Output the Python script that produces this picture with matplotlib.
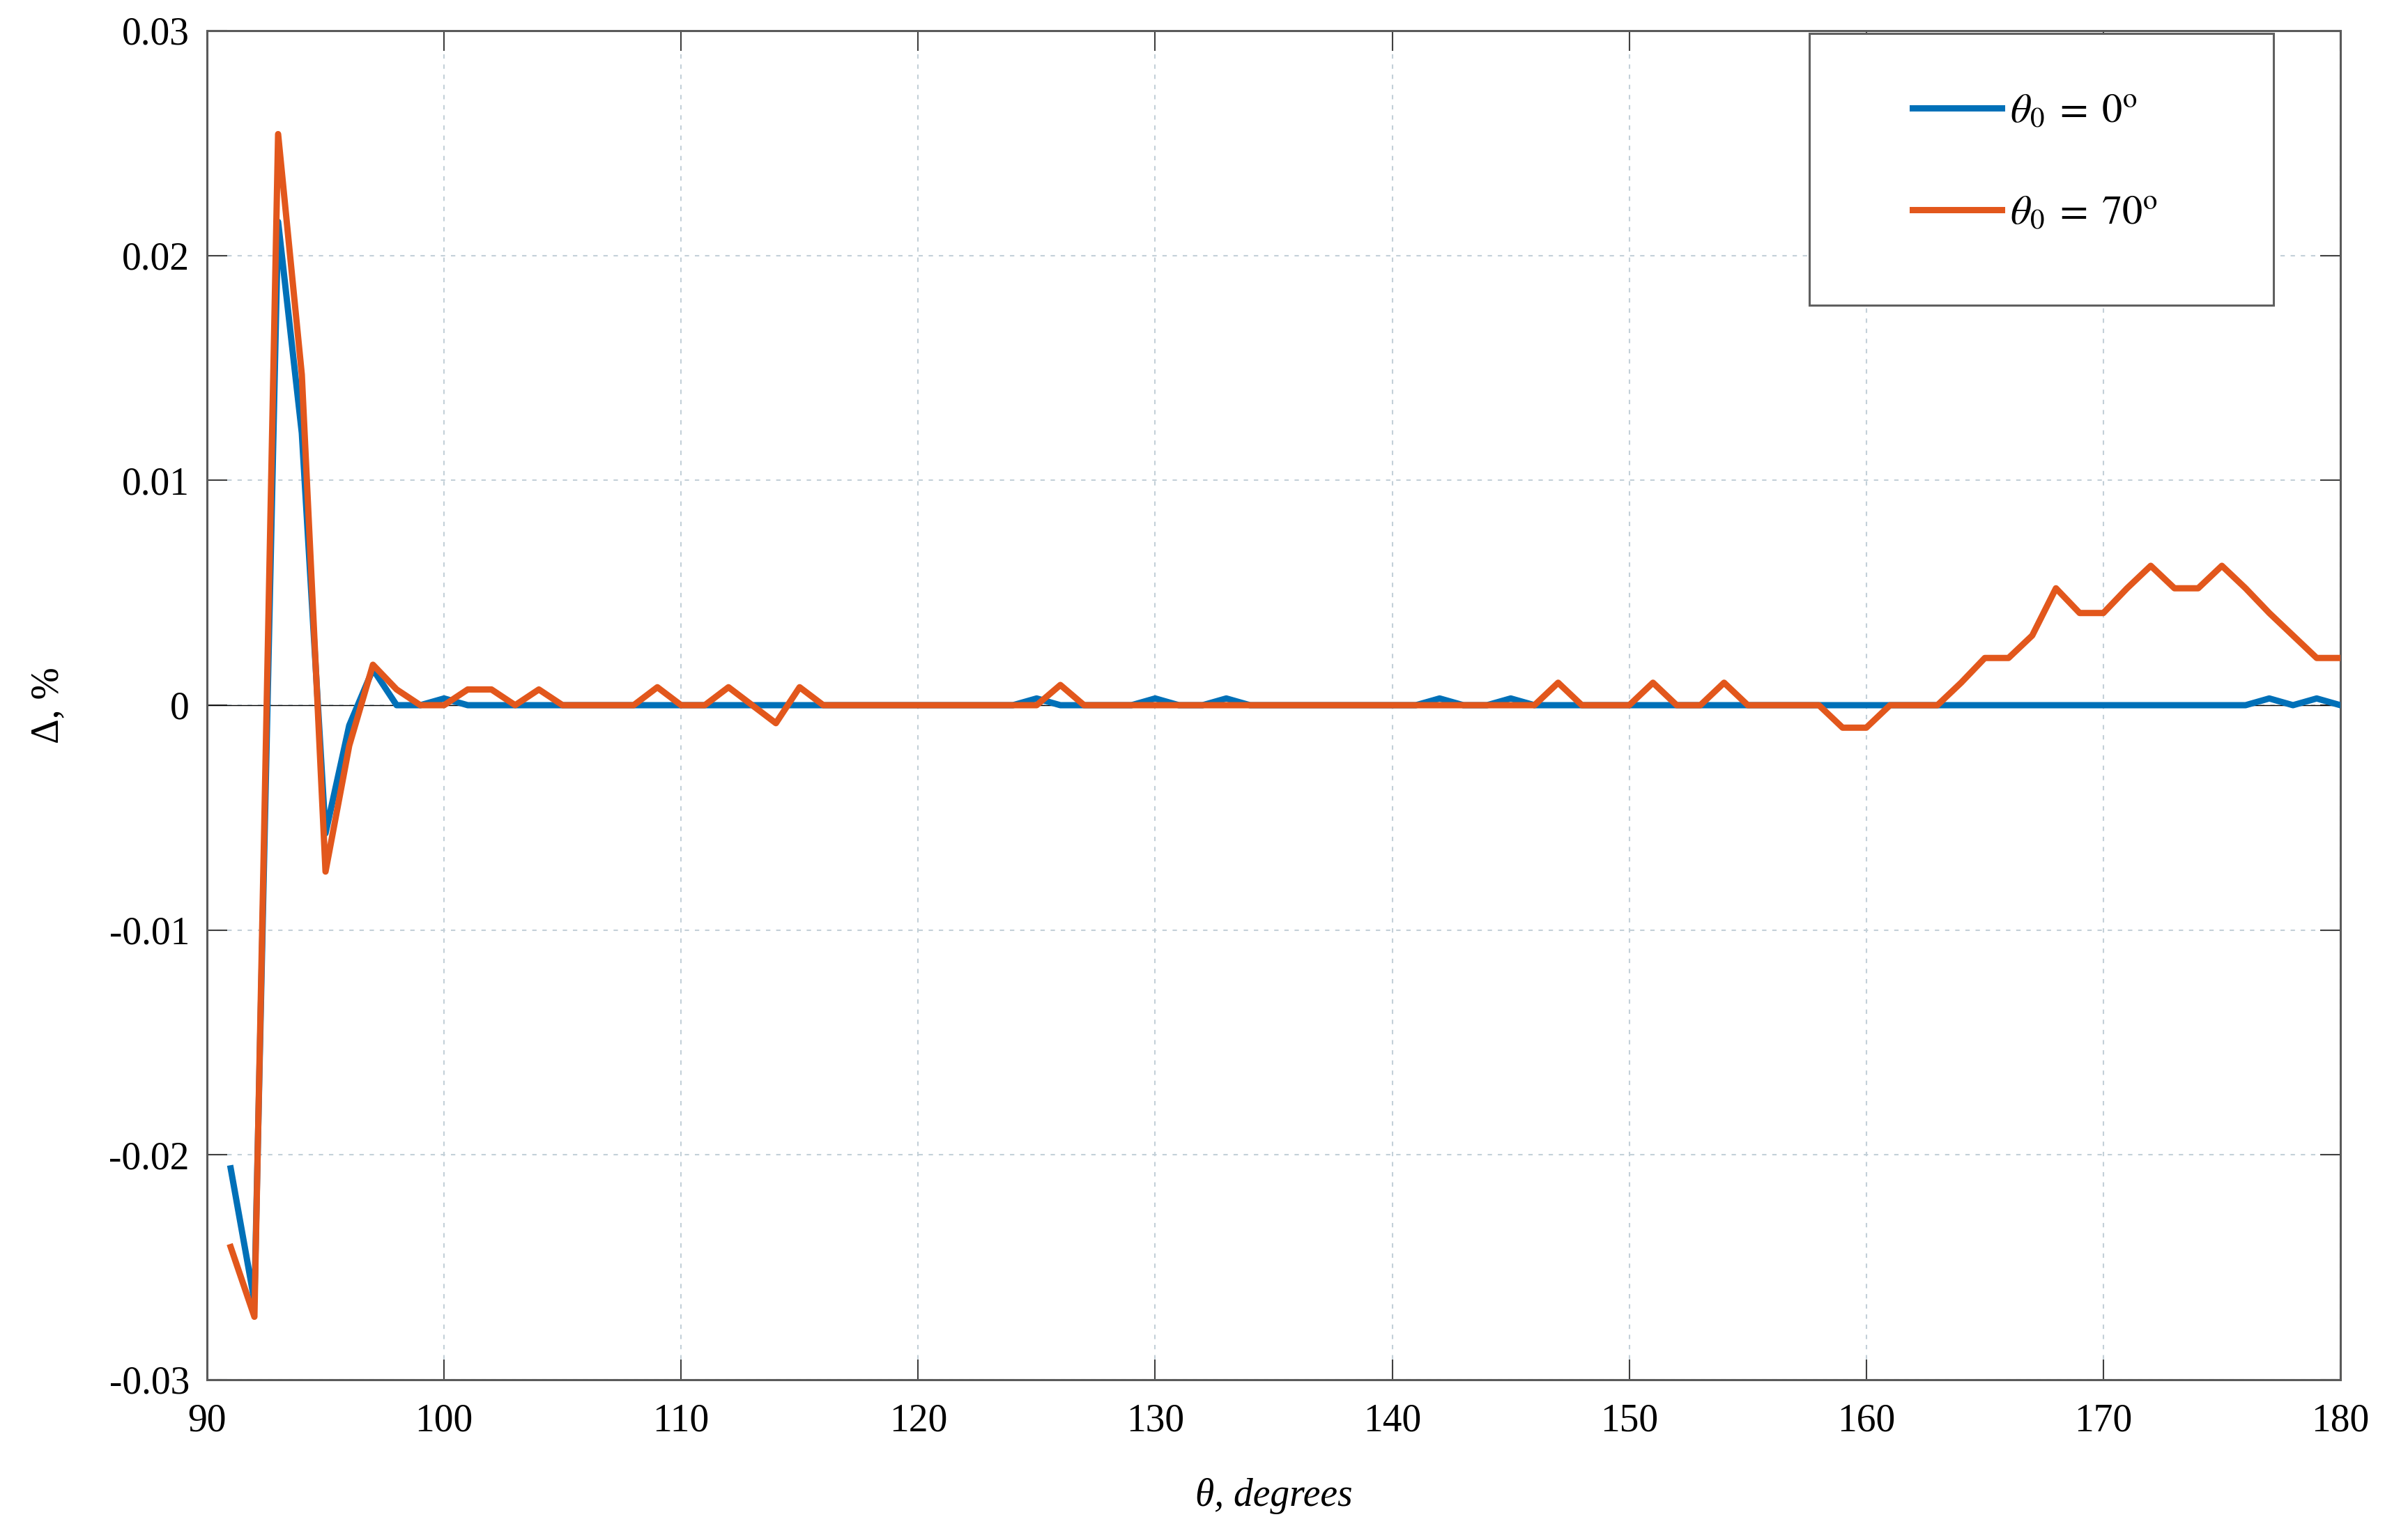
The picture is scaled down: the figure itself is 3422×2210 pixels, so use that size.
import matplotlib
matplotlib.use('Agg')
import matplotlib.pyplot as plt
from matplotlib.patches import Rectangle

# angle grid, degrees
theta = list(range(91, 181))

# theta_0 = 0 deg
delta_0 = [-0.0206, -0.0265, 0.0215, 0.0121, -0.0057, -0.0009, 0.0016, 0.0, 0.0, 0.0003,  # 91-100
           0.0, 0.0, 0.0, 0.0, 0.0, 0.0, 0.0, 0.0, 0.0, 0.0,                                # 101-110
           0.0, 0.0, 0.0, 0.0, 0.0, 0.0, 0.0, 0.0, 0.0, 0.0,                                # 111-120
           0.0, 0.0, 0.0, 0.0, 0.0003, 0.0, 0.0, 0.0, 0.0, 0.0003,                          # 121-130
           0.0, 0.0, 0.0003, 0.0, 0.0, 0.0, 0.0, 0.0, 0.0, 0.0,                             # 131-140
           0.0, 0.0003, 0.0, 0.0, 0.0003, 0.0, 0.0, 0.0, 0.0, 0.0,                          # 141-150
           0.0, 0.0, 0.0, 0.0, 0.0, 0.0, 0.0, 0.0, 0.0, 0.0,                                # 151-160
           0.0, 0.0, 0.0, 0.0, 0.0, 0.0, 0.0, 0.0, 0.0, 0.0,                                # 161-170
           0.0, 0.0, 0.0, 0.0, 0.0, 0.0, 0.0003, 0.0, 0.0003, 0.0]                          # 171-180

# theta_0 = 70 deg
delta_70 = [-0.0241, -0.0272, 0.0254, 0.0147, -0.0074, -0.0018, 0.0018, 0.0007, 0.0, 0.0,   # 91-100
            0.0007, 0.0007, 0.0, 0.0007, 0.0, 0.0, 0.0, 0.0, 0.0008, 0.0,                    # 101-110
            0.0, 0.0008, 0.0, -0.0008, 0.0008, 0.0, 0.0, 0.0, 0.0, 0.0,                      # 111-120
            0.0, 0.0, 0.0, 0.0, 0.0, 0.0009, 0.0, 0.0, 0.0, 0.0,                             # 121-130
            0.0, 0.0, 0.0, 0.0, 0.0, 0.0, 0.0, 0.0, 0.0, 0.0,                                # 131-140
            0.0, 0.0, 0.0, 0.0, 0.0, 0.0, 0.001, 0.0, 0.0, 0.0,                              # 141-150
            0.001, 0.0, 0.0, 0.001, 0.0, 0.0, 0.0, 0.0, -0.001, -0.001,                      # 151-160
            0.0, 0.0, 0.0, 0.001, 0.0021, 0.0021, 0.0031, 0.0052, 0.0041, 0.0041,            # 161-170
            0.0052, 0.0062, 0.0052, 0.0052, 0.0062, 0.0052, 0.0041, 0.0031, 0.0021, 0.0021]  # 171-180

xticks = [90, 100, 110, 120, 130, 140, 150, 160, 170, 180]
yticks = [-0.03, -0.02, -0.01, 0, 0.01, 0.02, 0.03]
ytick_labels = ['-0.03', '-0.02', '-0.01', '0', '0.01', '0.02', '0.03']
labels = [r'$\theta_{0}\;=\;0^{\mathrm{o}}$', r'$\theta_{0}\;=\;70^{\mathrm{o}}$']
colors = ['#0070B8', '#E2571C']

plt.rcParams['font.family'] = ['Liberation Serif', 'DejaVu Serif']
plt.rcParams['mathtext.fontset'] = 'stix'
plt.rcParams['axes.unicode_minus'] = False

W, H = 3423, 2210
fig = plt.figure(figsize=(W / 100, H / 100), dpi=100)
ax = fig.add_axes([297 / W, 1 - 1980 / H, (3358 - 297) / W, (1980 - 44) / H])

ax.grid(True, color='#c3d0d8', linestyle=(0, (3, 4)), linewidth=1.5)
ax.axhline(0, color='black', linewidth=1.0, zorder=2)

l1, = ax.plot(theta, delta_0, color=colors[0], linewidth=6.5, zorder=3)
l2, = ax.plot(theta, delta_70, color=colors[1], linewidth=6.5, zorder=4)

ax.set_xlim(90, 180)
ax.set_ylim(-0.03, 0.03)
ax.set_xticks(xticks)
ax.set_yticks(yticks)
ax.set_yticklabels(ytick_labels)

ax.tick_params(direction='in', length=21, width=1.5, colors='#404040',
               top=True, right=True, labelsize=40, labelcolor='black')
ax.tick_params(axis='y', pad=18)
ax.tick_params(axis='x', pad=24)
for s in ax.spines.values():
    s.set_color('#5a5a5a')
    s.set_linewidth(2.2)

ax.set_xlabel('θ, degrees', fontsize=40, style='italic', labelpad=40)
ax.set_ylabel('Δ, %', fontsize=40, labelpad=44)

# legend box
fig.patches.append(Rectangle((2596 / W, 1 - 438 / H), (3262 - 2596) / W, (438 - 48) / H,
                             transform=fig.transFigure, facecolor='white',
                             edgecolor='#606060', linewidth=2.2, zorder=5))
leg = fig.legend([l1, l2], labels, loc='center left',
                 bbox_to_anchor=(2744 / W, 1 - 234 / H), frameon=False,
                 fontsize=42, handlelength=2.2, handletextpad=0.2,
                 borderpad=0, borderaxespad=0, labelspacing=1.6)
leg.set_zorder(6)

fig.savefig('out.png', dpi=100)
